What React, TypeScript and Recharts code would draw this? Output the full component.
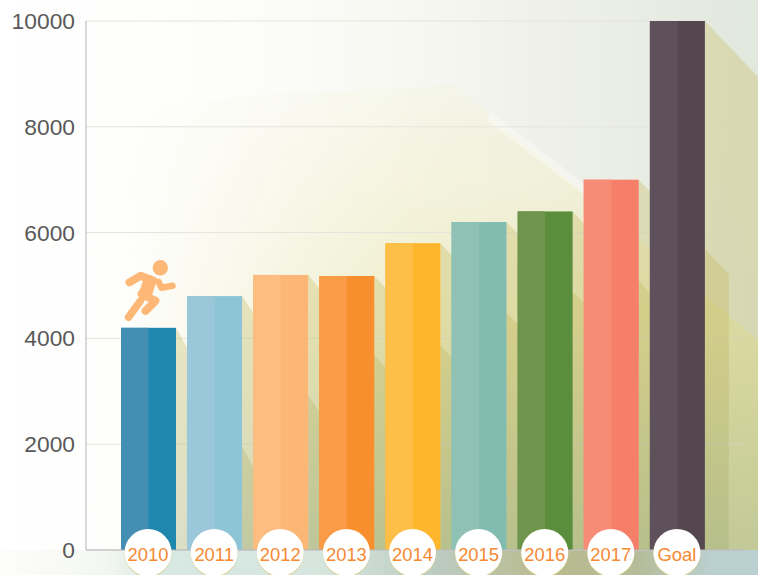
import React from "react";
import { BarChart, Bar, XAxis, YAxis, CartesianGrid } from "recharts";

const categories = ["2010", "2011", "2012", "2013", "2014", "2015", "2016", "2017", "Goal"];
const values = [4200, 4800, 5200, 5180, 5800, 6200, 6400, 7000, 10000];
const yTicks = [0, 2000, 4000, 6000, 8000, 10000];

const lightColors = ["#448eb3", "#9ac7d9", "#fdbd80", "#f99b47", "#fdbf47", "#8fc2b5", "#6e954b", "#f78b75", "#5f515c"];
const darkColors = ["#1f86ad", "#8ec5d6", "#fcb777", "#f78f2e", "#feb72d", "#82bbb0", "#5b8e3c", "#f57f68", "#54474f"];

const chartData = categories.map((name, i) => ({ name, value: values[i] }));

// runner icon sits on top of the first bar
const Runner = ({ cx, top }: { cx: number; top: number }) => {
  const color = "#fdb878";
  const dx = (n: number) => cx + n;
  const dy = (n: number) => top + n;
  return (
    <g fill="none" stroke={color} strokeLinecap="round" strokeLinejoin="round">
      <circle cx={dx(11.8)} cy={dy(-60)} r={7.7} fill={color} stroke="none" />
      <polyline points={`${dx(-19)},${dy(-45.5)} ${dx(-8)},${dy(-52)} ${dx(5)},${dy(-47)}`} strokeWidth={8} />
      <line x1={dx(1)} y1={dy(-46)} x2={dx(-3)} y2={dy(-34)} strokeWidth={13} />
      <polyline points={`${dx(10)},${dy(-46)} ${dx(13)},${dy(-40)} ${dx(24)},${dy(-42)}`} strokeWidth={6.5} />
      <line x1={dx(-8)} y1={dy(-27)} x2={dx(-20)} y2={dy(-10.5)} strokeWidth={7.5} />
      <polyline points={`${dx(-7)},${dy(-34)} ${dx(7)},${dy(-27)} ${dx(-3)},${dy(-17)}`} strokeWidth={8} />
    </g>
  );
};

// two tone column with a long diagonal shadow falling to the right
const TwoToneBar = (props: any) => {
  const { x, y, width, height, index } = props;
  const reach = 90;
  const slope = Math.max(1.05, 1.8 - index * 0.3);
  const right = x + width;
  const bottom = y + height;
  const shadow = [
    `${right},${y}`,
    `${right + reach},${y + reach * slope}`,
    `${right + reach},${bottom}`,
    `${right},${bottom}`,
  ].join(" ");
  return (
    <g>
      <polygon points={shadow} fill="url(#shadowFill)" fillOpacity={0.3} />
      <rect x={x} y={y} width={width} height={height} fill={darkColors[index]} />
      <rect x={x} y={y} width={width / 2} height={height} fill={lightColors[index]} />
      {index === 0 && <Runner cx={x + width / 2} top={y} />}
    </g>
  );
};

const CircleTick = (props: any) => {
  const { x, y, payload } = props;
  const cy = y + 2.5;
  return (
    <g>
      <circle cx={x} cy={cy + 1} r={23.5} fill="#d8cf8a" />
      <circle cx={x} cy={cy} r={23.5} fill="#ffffff" />
      <text x={x} y={cy + 8.8} textAnchor="middle" fontSize={18.4} fill="#f58a33" fontFamily="Liberation Sans">
        {payload.value}
      </text>
    </g>
  );
};

export default function App() {
  return (
    <div style={{ position: "absolute", left: 0, top: 0, width: 758, height: 575, overflow: "hidden" }}>
      <div
        style={{
          position: "absolute",
          inset: 0,
          background:
            "linear-gradient(90deg, #ffffff 0%, #fdfdfb 30%, #f8f9f3 50%, #eff1e9 72%, #e1e8dd 100%)",
        }}
      />
      {/* pale hill behind the columns */}
      <div
        style={{
          position: "absolute",
          inset: 0,
          clipPath: "polygon(0px 575px, 0px 130px, 250px 95px, 455px 85px, 758px 340px, 758px 575px)",
          WebkitMaskImage: "linear-gradient(90deg, transparent 120px, black 420px)",
          maskImage: "linear-gradient(90deg, transparent 120px, black 420px)",
          background:
            "linear-gradient(180deg, rgba(244,240,205,0) 8%, rgba(244,240,205,0.5) 30%, rgba(232,232,180,0.7) 60%, rgba(205,210,150,0.8) 100%)",
        }}
      />
      {/* faint streak along the hill edge */}
      <div
        style={{
          position: "absolute",
          inset: 0,
          clipPath: "polygon(490px 112px, 600px 196px, 596px 204px, 486px 120px)",
          background: "rgba(255,255,255,0.35)",
          filter: "blur(2px)",
        }}
      />
      {/* strip under the axis */}
      <div
        style={{
          position: "absolute",
          left: 0,
          right: 0,
          top: 550,
          bottom: 0,
          background:
            "linear-gradient(90deg, #fdfdf9 0%, #f4f7f1 14%, #d8e8e2 20%, #d6e6df 42%, #bccbc0 58%, #b9ba8c 72%, #b5bc98 84%, #bacfd0 94%, #bacfd0 100%)",
        }}
      />
      <div style={{ position: "absolute", left: 0, top: 0 }}>
        <BarChart
          width={758}
          height={575}
          data={chartData}
          margin={{ top: 21, right: 12, bottom: 0, left: 0 }}
          barSize={55}
        >
          <defs>
            <linearGradient id="shadowFill" gradientUnits="userSpaceOnUse" x1="0" y1="0" x2="0" y2="575">
              <stop offset="0%" stopColor="rgb(195,182,80)" />
              <stop offset="55%" stopColor="rgb(190,178,80)" />
              <stop offset="100%" stopColor="rgb(150,165,115)" />
            </linearGradient>
          </defs>
          <CartesianGrid vertical={false} stroke="#e4e4de" strokeWidth={1} />
          <XAxis
            dataKey="name"
            interval={0}
            height={25}
            padding={{ left: 29, right: 36 }}
            tickLine={false}
            tickMargin={0}
            tickSize={0}
            axisLine={{ stroke: "#b4b4ba" }}
            tick={<CircleTick />}
          />
          <YAxis
            width={86}
            domain={[0, 10000]}
            ticks={yTicks}
            interval={0}
            tickLine={false}
            tickSize={0}
            tickMargin={11}
            axisLine={{ stroke: "#b4b4ba" }}
            tick={{ fontSize: 22.8, fill: "#595959", fontFamily: "Liberation Sans" }}
          />
          <Bar dataKey="value" isAnimationActive={false} shape={<TwoToneBar />} />
        </BarChart>
      </div>
    </div>
  );
}
